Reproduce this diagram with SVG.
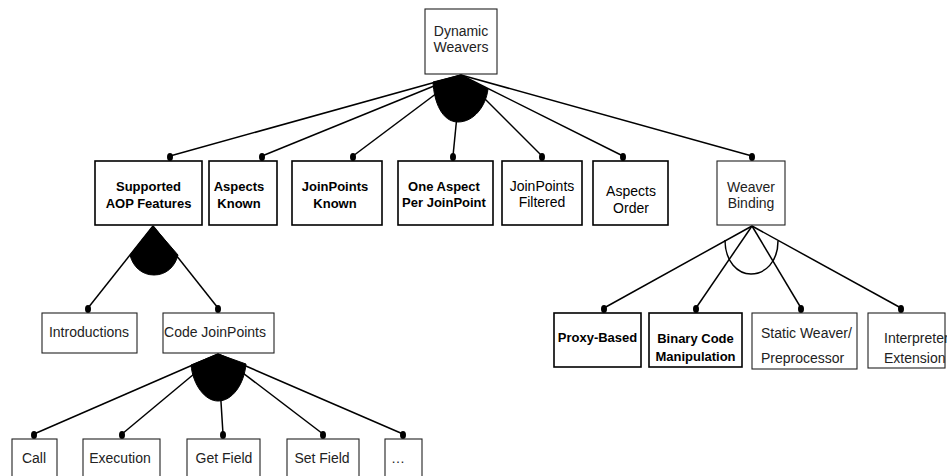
<svg xmlns="http://www.w3.org/2000/svg" width="947" height="476" viewBox="0 0 947 476">
<style>
.box{fill:#fff;stroke:#222;stroke-width:1.1}
.bbox{fill:#fff;stroke:#000;stroke-width:1.6}
.t{font-family:"Liberation Sans",Arial,sans-serif;font-size:14px;fill:#222;text-anchor:middle}
.b{font-family:"Liberation Sans",Arial,sans-serif;font-size:13px;font-weight:bold;fill:#000;text-anchor:middle}
.s{text-anchor:start}
.ln{stroke:#000;stroke-width:1.5;fill:none}
.dot{fill:#000}
.grp{fill:#000;stroke:#000;stroke-width:1}
</style>
<g id="connectors">
  <line class="ln" x1="461" y1="75" x2="170" y2="156"/>
  <line class="ln" x1="461" y1="75" x2="262" y2="156"/>
  <line class="ln" x1="461" y1="75" x2="353" y2="156"/>
  <line class="ln" x1="461" y1="75" x2="453" y2="156"/>
  <line class="ln" x1="461" y1="75" x2="542" y2="156"/>
  <line class="ln" x1="461" y1="75" x2="623" y2="156"/>
  <line class="ln" x1="461" y1="75" x2="752" y2="156"/>
  <path class="grp" d="M433,82 L461,75 L488,89 C486,106 474,122 458,122 C442,122 434,102 433,82 Z"/>
  <ellipse class="dot" cx="170" cy="157" rx="3" ry="4"/>
  <ellipse class="dot" cx="262" cy="157" rx="3" ry="4"/>
  <ellipse class="dot" cx="353" cy="157" rx="3" ry="4"/>
  <ellipse class="dot" cx="453" cy="157" rx="3" ry="4"/>
  <ellipse class="dot" cx="542" cy="157" rx="3" ry="4"/>
  <ellipse class="dot" cx="623" cy="157" rx="3" ry="4"/>
  <ellipse class="dot" cx="752" cy="157" rx="3" ry="4"/>
  <line class="ln" x1="153" y1="226" x2="88" y2="308"/>
  <line class="ln" x1="153" y1="226" x2="218" y2="308"/>
  <path class="grp" d="M153,226 L130,255 C133,267 142,275 154,275 C166,275 175,267 178,255 Z"/>
  <ellipse class="dot" cx="88" cy="309" rx="3" ry="4"/>
  <ellipse class="dot" cx="218" cy="309" rx="3" ry="4"/>
  <line class="ln" x1="218" y1="354" x2="34" y2="434"/>
  <line class="ln" x1="218" y1="354" x2="122" y2="434"/>
  <line class="ln" x1="218" y1="354" x2="223" y2="434"/>
  <line class="ln" x1="218" y1="354" x2="323" y2="434"/>
  <line class="ln" x1="218" y1="354" x2="403" y2="434"/>
  <path class="grp" d="M218,354 L191,365 C193,385 205,401 218,401 C232,401 244,385 246,364 Z"/>
  <ellipse class="dot" cx="34" cy="435" rx="3" ry="4"/>
  <ellipse class="dot" cx="122" cy="435" rx="3" ry="4"/>
  <ellipse class="dot" cx="223" cy="435" rx="3" ry="4"/>
  <ellipse class="dot" cx="323" cy="435" rx="3" ry="4"/>
  <ellipse class="dot" cx="403" cy="435" rx="3" ry="4"/>
  <line class="ln" x1="752" y1="226" x2="604" y2="308"/>
  <line class="ln" x1="752" y1="226" x2="696" y2="308"/>
  <line class="ln" x1="752" y1="226" x2="801" y2="308"/>
  <line class="ln" x1="752" y1="226" x2="901" y2="308"/>
  <path class="ln" d="M725,240 C725,262 738,274 751,274 C765,274 778,262 778,241"/>
  <ellipse class="dot" cx="604" cy="309" rx="3" ry="4"/>
  <ellipse class="dot" cx="696" cy="309" rx="3" ry="4"/>
  <ellipse class="dot" cx="801" cy="309" rx="3" ry="4"/>
  <ellipse class="dot" cx="901" cy="309" rx="3" ry="4"/>
</g>
<g id="dynamic-weavers">
  <rect class="box" x="425" y="9" width="72" height="65"/>
  <text class="t" x="461" y="36">Dynamic</text>
  <text class="t" x="461" y="52">Weavers</text>
</g>
<g id="supported-aop-features">
  <rect class="bbox" x="95" y="161" width="107" height="64"/>
  <text class="b" x="148.5" y="191">Supported</text>
  <text class="b" x="148.5" y="208">AOP Features</text>
</g>
<g id="aspects-known">
  <rect class="bbox" x="209" y="161" width="68" height="64"/>
  <text class="b" x="239" y="191">Aspects</text>
  <text class="b" x="239" y="208">Known</text>
</g>
<g id="joinpoints-known">
  <rect class="bbox" x="292" y="161" width="90" height="64"/>
  <text class="b" x="335" y="191">JoinPoints</text>
  <text class="b" x="335" y="208">Known</text>
</g>
<g id="one-aspect-per-joinpoint">
  <rect class="bbox" x="398" y="161" width="95" height="64"/>
  <text class="b" x="444" y="191">One Aspect</text>
  <text class="b" x="444" y="207">Per JoinPoint</text>
</g>
<g id="joinpoints-filtered">
  <rect class="bbox" x="502" y="161" width="80" height="64"/>
  <text class="t" x="542" y="191" style="fill:#000">JoinPoints</text>
  <text class="t" x="542" y="207" style="fill:#000">Filtered</text>
</g>
<g id="aspects-order">
  <rect class="bbox" x="593" y="161" width="75" height="64"/>
  <text class="t" x="631" y="196" style="fill:#000">Aspects</text>
  <text class="t" x="631" y="213" style="fill:#000">Order</text>
</g>
<g id="weaver-binding">
  <rect class="box" x="717" y="161" width="68" height="64"/>
  <text class="t" x="751" y="192">Weaver</text>
  <text class="t" x="751" y="208">Binding</text>
</g>
<g id="introductions">
  <rect class="box" x="42" y="313" width="95" height="40"/>
  <text class="t" x="89" y="337">Introductions</text>
</g>
<g id="code-joinpoints">
  <rect class="box" x="163" y="313" width="111" height="40"/>
  <text class="t" x="215" y="337">Code JoinPoints</text>
</g>
<g id="call">
  <rect class="box" x="12" y="439" width="45" height="50"/>
  <text class="t" x="34" y="463">Call</text>
</g>
<g id="execution">
  <rect class="box" x="83" y="439" width="77" height="50"/>
  <text class="t" x="120" y="463">Execution</text>
</g>
<g id="get-field">
  <rect class="box" x="187" y="439" width="73" height="50"/>
  <text class="t" x="224" y="463">Get Field</text>
</g>
<g id="set-field">
  <rect class="box" x="287" y="439" width="72" height="50"/>
  <text class="t" x="322" y="463">Set Field</text>
</g>
<g id="more">
  <rect class="box" x="385" y="439" width="37" height="50"/>
  <text class="t" x="398" y="463">…</text>
</g>
<g id="proxy-based">
  <rect class="bbox" x="554" y="313" width="87" height="54"/>
  <text class="b" x="597.5" y="342">Proxy-Based</text>
</g>
<g id="binary-code-manipulation">
  <rect class="bbox" x="649" y="313" width="93" height="54"/>
  <text class="b" x="695.5" y="343">Binary Code</text>
  <text class="b" x="695.5" y="361">Manipulation</text>
</g>
<g id="static-weaver">
  <rect class="box" x="752" y="313" width="105" height="56"/>
  <text class="t s" x="761" y="338">Static Weaver/</text>
  <text class="t s" x="761" y="363">Preprocessor</text>
</g>
<g id="interpreter-extension">
  <rect class="box" x="868" y="313" width="77" height="55"/>
  <text class="t s" x="884" y="343">Interpreter</text>
  <text class="t s" x="884" y="363">Extension</text>
</g>
</svg>
